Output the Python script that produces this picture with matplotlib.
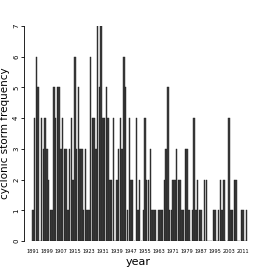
import matplotlib
matplotlib.use("Agg")
import matplotlib.pyplot as plt
import numpy as np

# yearly counts
years = np.arange(1891, 2014)
storms = [1, 4, 6, 5, 0, 4, 3, 4, 3, 2,      # 1891-1900
          1, 1, 5, 4, 5, 5, 3, 4, 3, 3,      # 1901-1910
          1, 3, 4, 2, 6, 3, 5, 3, 3, 1,      # 1911-1920
          3, 1, 1, 6, 4, 4, 3, 7, 5, 7,      # 1921-1930
          4, 4, 5, 4, 2, 2, 4, 0, 2, 3,      # 1931-1940
          4, 3, 6, 5, 1, 4, 2, 2, 0, 4,      # 1941-1950
          1, 2, 0, 1, 4, 2, 2, 3, 1, 1,      # 1951-1960
          1, 0, 1, 1, 1, 2, 3, 5, 1, 1,      # 1961-1970
          2, 2, 3, 2, 2, 1, 1, 3, 3, 1,      # 1971-1980
          0, 1, 4, 1, 2, 1, 1, 0, 2, 2,      # 1981-1990
          0, 0, 0, 1, 1, 0, 1, 2, 1, 2,      # 1991-2000
          0, 0, 4, 1, 1, 2, 2, 0, 0, 1,      # 2001-2010
          1, 0, 1]                           # 2011-2013
tick_years = np.arange(1891, 2012, 8)

W, H = 266, 277
fig = plt.figure(figsize=(W / 100, H / 100), dpi=100)
ax = fig.add_axes([24 / W, (H - 241) / H, (252 - 24) / W, (241 - 26) / H])

ax.bar(years, storms, width=0.85, color="#3c3c3c", edgecolor="#1e1e1e", linewidth=0.3)

ax.set_xlim(1885.9, 2016.1)
ax.set_ylim(0, 7)

for s in ["top", "right", "bottom"]:
    ax.spines[s].set_visible(False)
ax.spines["left"].set_linewidth(0.6)

ax.set_yticks(range(8))
ax.set_yticklabels([str(i) for i in range(8)], rotation=90, va="center", fontsize=5)
ax.tick_params(axis="y", length=2.5, width=0.6, pad=1)

ax.set_xticks(tick_years)
ax.set_xticklabels([str(y) for y in tick_years], fontsize=3.6)
ax.tick_params(axis="x", length=0, pad=6)

ax.set_xlabel("year", fontsize=8, labelpad=2)
fig.text(5 / W, (H - 133) / H, "cyclonic storm frequency", rotation=90,
         ha="center", va="center", fontsize=7.5)

fig.savefig("out.png", dpi=100)
